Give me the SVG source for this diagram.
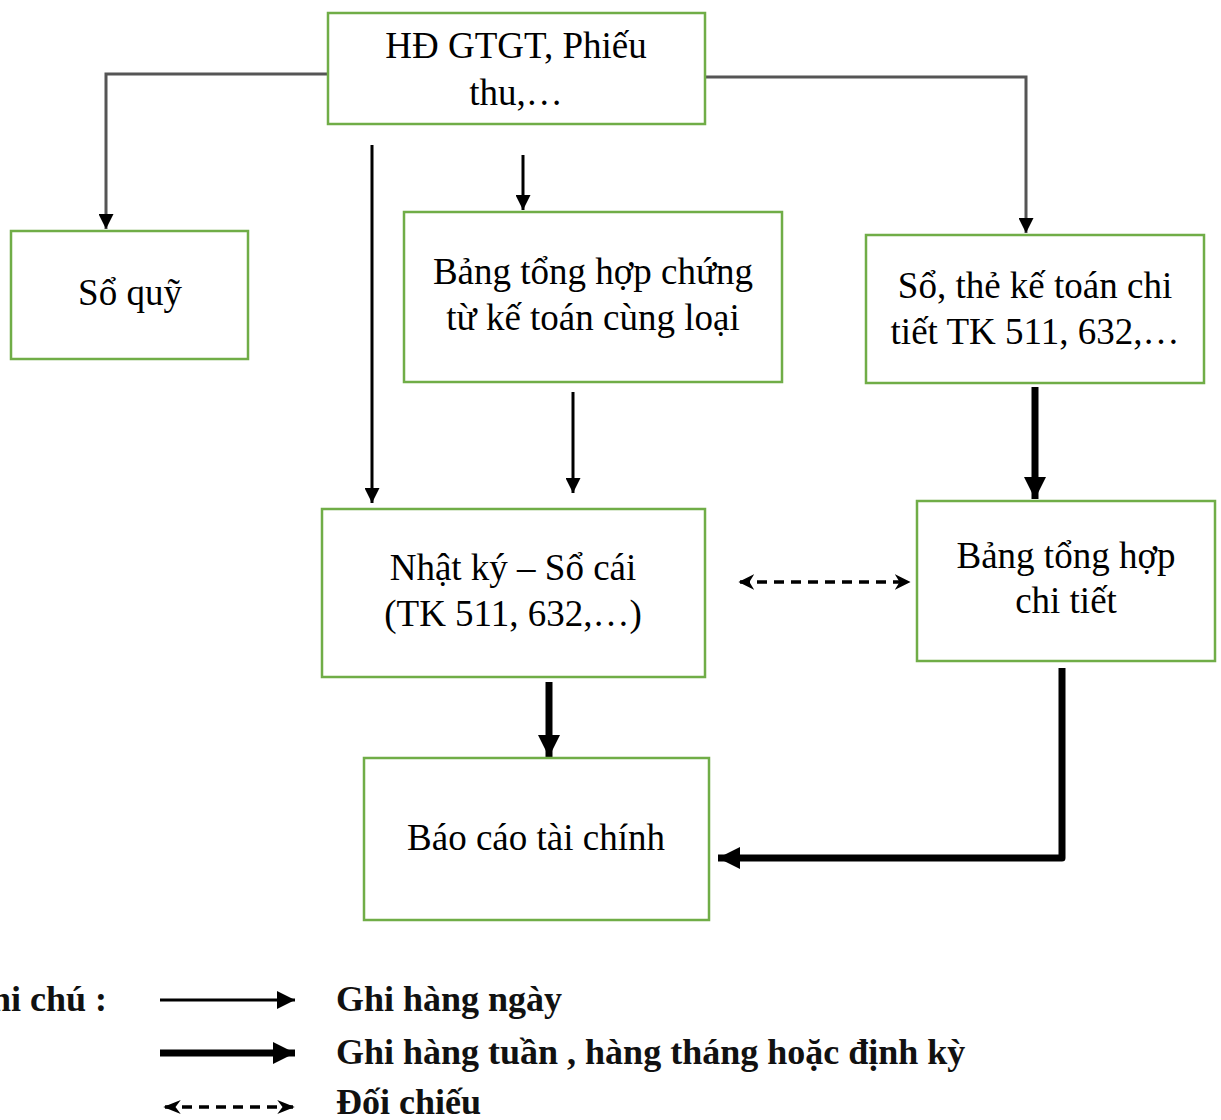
<svg xmlns="http://www.w3.org/2000/svg" width="1221" height="1120" viewBox="0 0 1221 1120">
<defs>
<style>
.box{fill:#fff;stroke:#70ad47;stroke-width:2.5}
.t{font-family:"Liberation Serif","Times New Roman",serif;font-size:37px;fill:#000;text-anchor:middle}
.lg{font-family:"Liberation Serif","Times New Roman",serif;font-size:36px;fill:#111;font-weight:bold}
.thin{fill:none;stroke:#000;stroke-width:3}
.gray{fill:none;stroke:#555;stroke-width:3}
.thick{fill:none;stroke:#000;stroke-width:7;stroke-linejoin:round}
.dash{fill:none;stroke:#000;stroke-width:3.5;stroke-dasharray:10 7}
</style>
<marker id="a" viewBox="0 0 10 10" refX="10" refY="5" markerWidth="5" markerHeight="5" markerUnits="strokeWidth" orient="auto"><path d="M0,0 L10,5 L0,10 Z" fill="#000"/></marker>
<marker id="al" viewBox="0 0 10 10" refX="10" refY="5" markerWidth="6" markerHeight="6" markerUnits="strokeWidth" orient="auto"><path d="M0,0 L10,5 L0,10 Z" fill="#000"/></marker>
<marker id="ag" viewBox="0 0 10 10" refX="10" refY="5" markerWidth="5" markerHeight="5" markerUnits="strokeWidth" orient="auto"><path d="M0,0 L10,5 L0,10 Z" fill="#000"/></marker>
<marker id="ak" viewBox="0 0 10 10" refX="10" refY="5" markerWidth="3.2" markerHeight="3.6" markerUnits="strokeWidth" orient="auto"><path d="M0,0 L10,5 L0,10 Z" fill="#000"/></marker>
<marker id="ad" viewBox="0 0 10 10" refX="9" refY="5" markerWidth="4.5" markerHeight="4.5" markerUnits="strokeWidth" orient="auto-start-reverse"><path d="M0,0 L10,5 L0,10 L3,5 Z" fill="#000"/></marker>
<marker id="adl" viewBox="0 0 10 10" refX="9" refY="5" markerWidth="5" markerHeight="5" markerUnits="strokeWidth" orient="auto-start-reverse"><path d="M0,1 L10,5 L0,9 L3,5 Z" fill="#000"/></marker>
</defs>
<rect width="1221" height="1120" fill="#fff"/>
<g id="connectors">
<path class="gray" d="M328,74 H106 V229" marker-end="url(#ag)"/>
<path class="gray" d="M705,77 H1026 V233" marker-end="url(#ag)"/>
<path class="thin" d="M372,145 V503" marker-end="url(#a)"/>
<path class="thin" d="M523,155 V210" marker-end="url(#a)"/>
<path class="thin" d="M573,392 V493" marker-end="url(#a)"/>
<path class="thick" d="M1035,387 V499" marker-end="url(#ak)"/>
<path class="thick" d="M549,682 V757" marker-end="url(#ak)"/>
<path class="thick" d="M1062,668 V858 H718" marker-end="url(#ak)"/>
<path class="dash" d="M740,582 H909" marker-start="url(#ad)" marker-end="url(#ad)"/>
</g>
<g id="n1"><rect class="box" x="328" y="13" width="377" height="111"/><text class="t" x="516" y="58">HĐ GTGT, Phiếu</text><text class="t" x="516" y="105">thu,…</text></g>
<g id="n2"><rect class="box" x="11" y="231" width="237" height="128"/><text class="t" x="130" y="305">Sổ quỹ</text></g>
<g id="n3"><rect class="box" x="404" y="212" width="378" height="170"/><text class="t" x="593" y="284">Bảng tổng hợp chứng</text><text class="t" x="593" y="330">từ kế toán cùng loại</text></g>
<g id="n4"><rect class="box" x="866" y="235" width="338" height="148"/><text class="t" x="1035" y="298">Sổ, thẻ kế toán chi</text><text class="t" x="1035" y="344">tiết TK 511, 632,…</text></g>
<g id="n5"><rect class="box" x="322" y="509" width="383" height="168"/><text class="t" x="513" y="580">Nhật ký – Sổ cái</text><text class="t" x="513" y="626">(TK 511, 632,…)</text></g>
<g id="n6"><rect class="box" x="917" y="501" width="298" height="160"/><text class="t" x="1066" y="568">Bảng tổng hợp</text><text class="t" x="1066" y="613">chi tiết</text></g>
<g id="n7"><rect class="box" x="364" y="758" width="345" height="162"/><text class="t" x="536" y="850">Báo cáo tài chính</text></g>
<g id="legend">
<text class="lg" x="107" y="1011" text-anchor="end">Ghi chú :</text>
<path class="thin" d="M160,1000 H295" marker-end="url(#al)"/>
<path class="thick" d="M160,1053 H295" marker-end="url(#ak)"/>
<path class="dash" d="M165,1107 H293" marker-start="url(#adl)" marker-end="url(#adl)"/>
<text class="lg" x="336" y="1011">Ghi hàng ngày</text>
<text class="lg" x="336" y="1064">Ghi hàng tuần , hàng tháng hoặc định kỳ</text>
<text class="lg" x="336" y="1114">Đối chiếu</text>
</g>
</svg>
